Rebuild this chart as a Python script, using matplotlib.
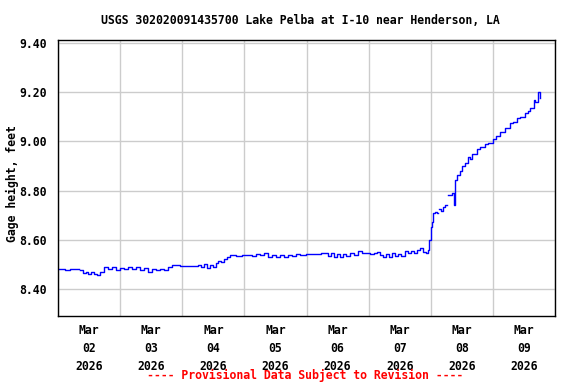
import matplotlib
matplotlib.use("Agg")
import matplotlib.pyplot as plt
import matplotlib.dates as mdates
import numpy as np
import pandas as pd

# hours since 2026-03-02 00:00 and gage height (ft); nan = gap in record
hours = [0, 2.7, 4.6, 7.6, 8.0, 8.5, 9.7, 10.8, 11.6, 12.8, 13.9, 15.1, 16.2, 17.8, 19.3, 20.9, 22.4,
         24, 25.5, 27, 28.6, 30.1, 31.7, 33.2, 34.8, 36.3, 37.9, 39.4, 41, 42.5, 44.1, 47.1,
         49.1, 53, 54.1, 55.3, 56.4, 57.6, 58.7, 59.9, 61.1, 61.8, 63, 64.2, 65.3, 66.5, 68.8, 71.1,
         73.4, 75, 76.5, 78.1, 79.6, 81.2, 82.7, 84.3, 85.8, 87.3, 88.9, 90.4, 92, 93.5, 95.8,
         98.2, 100.5, 101.6, 103.2, 104.3, 105.5, 106.7, 107.8, 109, 110.1, 111.3, 112.8, 114.4,
         115.9, 117.5, 119,
         120.6, 122.1, 123.3, 124.4, 125.6, 126.8, 127.9, 129.1, 130.2, 131.4, 132.6, 134.1,
         135.3, 136.4, 137.6, 138.7, 139.9, 141.1, 142.2, 143, 143.4, 144.2, 144.5, 144.9, 145.7,
         146.5, 146.8, 147, 148, 148.8, 149.6, 150.2, 150.5, 152.2, 152.8, 153.4, 154.1, 155.4,
         156.1, 157.3, 158.5, 159.2, 160, 161.8, 163.1, 165, 166.2, 168, 169.3, 170.8, 172.8,
         174.7, 175.9, 177.3, 178.5, 180.5, 181.6, 182.4, 183.7, 184.3, 185.6, 186.3]
gage = [8.48, 8.478, 8.482, 8.48, np.nan, 8.475, 8.465, 8.47, 8.46, 8.468, 8.462, 8.457, 8.47, 8.488, 8.48, 8.488, 8.478,
        8.486, 8.48, 8.49, 8.482, 8.488, 8.475, 8.485, 8.47, 8.48, 8.475, 8.483, 8.478, 8.488, 8.497, 8.495,
        8.493, 8.493, 8.497, 8.49, 8.50, 8.487, 8.498, 8.49, 8.505, 8.515, 8.51, 8.52, 8.528, 8.538, 8.535, 8.538,
        8.54, 8.535, 8.543, 8.538, 8.546, 8.53, 8.536, 8.528, 8.54, 8.53, 8.54, 8.533, 8.541, 8.537, 8.541,
        8.541, 8.541, 8.546, 8.545, 8.535, 8.545, 8.528, 8.542, 8.53, 8.543, 8.532, 8.545, 8.538,
        8.556, 8.546, 8.545,
        8.541, 8.548, 8.552, 8.54, 8.528, 8.542, 8.53, 8.545, 8.532, 8.543, 8.535, 8.556,
        8.545, 8.555, 8.545, 8.56, 8.567, 8.552, 8.548, 8.56, 8.60, 8.653, 8.674, 8.709, 8.714,
        8.71, np.nan, 8.725, 8.715, 8.735, 8.741, np.nan, 8.782, 8.789, 8.74, 8.843, 8.863, 8.88,
        8.90, 8.91, 8.935, 8.93, 8.95, 8.97, 8.975, 8.99, 8.995, 9.008, 9.02, 9.039, 9.055,
        9.076, 9.08, 9.094, 9.10, 9.114, 9.125, 9.135, 9.17, 9.16, 9.20, 9.176]

start = pd.Timestamp("2026-03-02")
times = start + pd.to_timedelta(hours, unit="h")

mono = "DejaVu Sans Mono"
fs = 8.3

fig = plt.figure(figsize=(5.76, 3.84), dpi=100)
ax = fig.add_axes([58/576, 1 - 316/384, (555-58)/576, (316-40)/384])
ax.plot(times, gage, color="#0000ff", linewidth=1, drawstyle="steps-post")

ax.set_xlim(start, start + pd.Timedelta(days=8))
ax.set_ylim(8.29, 9.412)
ax.set_yticks([8.4, 8.6, 8.8, 9.0, 9.2, 9.4])
ax.set_yticklabels(["%.2f" % v for v in [8.4, 8.6, 8.8, 9.0, 9.2, 9.4]],
                   family=mono, fontsize=fs, fontweight="bold")

ax.xaxis.set_major_locator(mdates.DayLocator())
ax.xaxis.set_major_formatter(plt.NullFormatter())
ax.xaxis.set_minor_locator(mdates.HourLocator(byhour=[12]))
ax.xaxis.set_minor_formatter(mdates.DateFormatter("%b\n%d\n%Y"))
for lab in ax.xaxis.get_minorticklabels():
    lab.set_family(mono)
    lab.set_fontsize(fs)
    lab.set_fontweight("bold")
    lab.set_linespacing(1.5)
ax.tick_params(axis="both", which="both", length=0)
ax.tick_params(axis="x", which="minor", pad=5.5)
ax.tick_params(axis="y", pad=8)

ax.grid(True, which="major", color="#cccccc", linewidth=1)
ax.set_axisbelow(True)
for s in ax.spines.values():
    s.set_color("black")
    s.set_linewidth(1)

fig.text(12/576, 1 - 184/384, "Gage height, feet", rotation=90, ha="center", va="center",
         family=mono, fontsize=fs, fontweight="bold")

fig.text(300/576, 1 - 20/384, "USGS 302020091435700 Lake Pelba at I-10 near Henderson, LA",
         ha="center", va="center", family=mono, fontsize=fs, fontweight="bold")
fig.text(305/576, 1 - 375/384, "---- Provisional Data Subject to Revision ----",
         ha="center", va="center", family=mono, fontsize=fs, fontweight="bold", color="red")

fig.savefig("out.png", dpi=100)
